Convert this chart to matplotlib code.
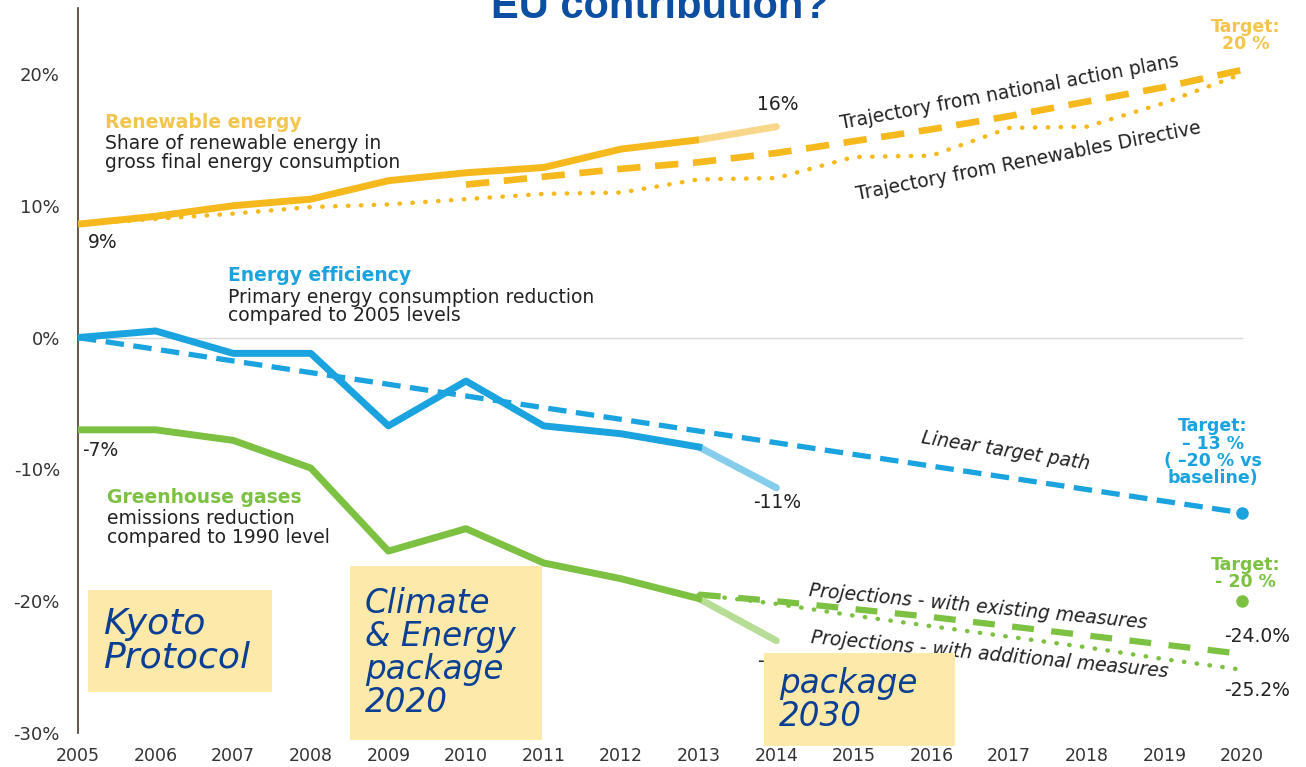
"""
EU 2020 targets chart: renewables, energy efficiency and greenhouse gas trajectories.
"""

import matplotlib
matplotlib.use("Agg")
import matplotlib.pyplot as plt
from matplotlib.patches import Rectangle


years = list(range(2005, 2015))

# renewable energy share (%), 2014 is the light segment
renew = [8.6, 9.2, 10.0, 10.5, 11.9, 12.5, 12.9, 14.3, 15.0, 16.0]
nap_years = list(range(2010, 2021))
nap_traj = [11.6, 12.2, 12.8, 13.3, 14.0, 14.9, 15.8, 16.8, 17.9, 19.0, 20.3]
red_years = list(range(2005, 2021))
red_traj = [8.6, 9.0, 9.4, 9.9, 10.1, 10.5, 10.9, 11.0, 12.0, 12.1, 13.7, 13.8, 15.9, 16.0, 17.8, 20.0]

# energy efficiency (%)
eff = [0.0, 0.5, -1.2, -1.2, -6.7, -3.3, -6.7, -7.3, -8.3, -11.4]
eff_path_years = [2005, 2020]
eff_path = [0.0, -13.3]

# greenhouse gases (%)
ghg = [-7.0, -7.0, -7.8, -9.9, -16.2, -14.5, -17.1, -18.3, -19.8, -23.0]
proj_years = list(range(2013, 2021))
proj_existing = [-19.5, -20.0, -20.6, -21.2, -21.9, -22.6, -23.3, -24.0]
proj_additional = [-19.5, -20.2, -21.1, -21.9, -22.7, -23.5, -24.4, -25.2]

yticks = [20, 10, 0, -10, -20, -30]
ytick_labels = ["20%", "10%", "0%", "-10%", "-20%", "-30%"]
xticks = list(range(2005, 2021))

YEL, YEL_L, YEL_T = "#f5b91e", "#f8d78a", "#f2c54e"
BLU, BLU_L = "#1aa3de", "#86cdec"
GRN, GRN_L = "#7dc142", "#b7dc95"
BOX = "#fde9a9"
NAVY = "#0b3f94"
TXT = "#222222"

W, H = 1306, 767
fig = plt.figure(figsize=(W / 100, H / 100), dpi=100)
ax = fig.add_axes([78 / W, 34 / H, 1222 / W, 725 / H])
ax.set_xlim(2005, 2005 + 1222 / 77.6)
ax.set_ylim(-30, 25)


def fx(px):
    """figure pixel x -> data x"""
    return 2005 + (px - 78) / 77.6


for s in ["top", "right", "bottom"]:
    ax.spines[s].set_visible(False)
ax.spines["left"].set_color("#4a3a2a")
ax.spines["left"].set_linewidth(1.2)
ax.set_yticks(yticks)
ax.set_yticklabels(ytick_labels, fontsize=13, color="#333333")
ax.set_xticks(xticks)
ax.set_xticklabels([str(y) for y in xticks], fontsize=12.5, color="#333333")
ax.tick_params(axis="y", length=0, pad=13)
ax.tick_params(axis="x", length=0, pad=10)

ax.plot([2005, 2020], [0, 0], color="#d8d8d8", lw=1, zorder=1)

# renewables
ax.plot(red_years, red_traj, color=YEL, lw=3.2, linestyle=(0, (0.1, 2.8)),
        dash_capstyle="round", zorder=2)
ax.plot(nap_years, nap_traj, color=YEL, lw=4.8, linestyle=(0, (3.5, 2.2)), zorder=2)
ax.plot(years[-2:], renew[-2:], color=YEL_L, lw=5, solid_capstyle="round", zorder=3)
ax.plot(years[:-1], renew[:-1], color=YEL, lw=5, solid_capstyle="butt", zorder=4)

# energy efficiency
ax.plot(eff_path_years, eff_path, color=BLU, lw=3.8, linestyle=(0, (3.5, 1.8)), zorder=2)
ax.plot(eff_path_years[-1], eff_path[-1], "o", color=BLU, ms=8, zorder=3)
ax.plot(years[-2:], eff[-2:], color=BLU_L, lw=5, solid_capstyle="round", zorder=3)
ax.plot(years[:-1], eff[:-1], color=BLU, lw=5, zorder=4)

# greenhouse gases
ax.plot(proj_years, proj_additional, color=GRN, lw=3.2, linestyle=(0, (0.1, 2.8)),
        dash_capstyle="round", zorder=2)
ax.plot(proj_years, proj_existing, color=GRN, lw=4.5, linestyle=(0, (3.5, 2.8)), zorder=2)
ax.plot(2020, -20, "o", color=GRN, ms=8, zorder=3)
ax.plot(years[-2:], ghg[-2:], color=GRN_L, lw=5, solid_capstyle="round", zorder=3)
ax.plot(years[:-1], ghg[:-1], color=GRN, lw=5, zorder=4)

# labels
fs = 13.5
ls = 0.95
ax.text(2005.35, 16.3, "Renewable energy", color=YEL_T, fontsize=fs, fontweight="bold", va="center")
ax.text(2005.35, 14.0, "Share of renewable energy in\ngross final energy consumption",
        color=TXT, fontsize=fs, va="center", linespacing=ls)
ax.text(2005.13, 7.2, "9%", color=TXT, fontsize=fs, va="center")
ax.text(2013.75, 17.7, "16%", color=TXT, fontsize=fs, va="center")
ax.text(2017.0, 18.6, "Trajectory from national action plans", color=TXT, fontsize=fs,
        rotation=10.5, ha="center", va="center")
ax.text(2017.25, 13.4, "Trajectory from Renewables Directive", color=TXT, fontsize=fs,
        rotation=11, ha="center", va="center")
ax.text(2020.05, 22.9, "Target:\n20 %", color=YEL_T, fontsize=12.5, fontweight="bold",
        ha="center", va="center", linespacing=0.95)

ax.text(2006.93, 4.7, "Energy efficiency", color=BLU, fontsize=fs, fontweight="bold", va="center")
ax.text(2006.93, 2.35, "Primary energy consumption reduction\ncompared to 2005 levels",
        color=TXT, fontsize=fs, va="center", linespacing=ls)
ax.text(2005.05, -8.6, "-7%", color=TXT, fontsize=fs, va="center")
ax.text(2013.7, -12.5, "-11%", color=TXT, fontsize=fs, va="center")
ax.text(2016.95, -8.6, "Linear target path", color=TXT, fontsize=fs, style="italic",
        rotation=-9, ha="center", va="center")
ax.text(2019.62, -8.7, "Target:\n\u2013 13 %\n( \u201320 % vs\nbaseline)", color=BLU,
        fontsize=12.5, fontweight="bold", ha="center", va="center", linespacing=0.95)

ax.text(2005.37, -12.1, "Greenhouse gases", color=GRN, fontsize=fs, fontweight="bold", va="center")
ax.text(2005.37, -14.45, "emissions reduction\ncompared to 1990 level",
        color=TXT, fontsize=fs, va="center", linespacing=ls)
ax.text(fx(757), -24.6, "-23%", color=TXT, fontsize=fs, va="center", zorder=1)
ax.text(2016.6, -20.4, "Projections - with existing measures", color=TXT, fontsize=fs,
        style="italic", rotation=-5.5, ha="center", va="center")
ax.text(2016.75, -24.1, "Projections - with additional measures", color=TXT, fontsize=fs,
        style="italic", rotation=-5.5, ha="center", va="center")
ax.text(2020.05, -17.9, "Target:\n- 20 %", color=GRN, fontsize=12.5, fontweight="bold",
        ha="center", va="center", linespacing=0.95)
ax.text(fx(1290), -22.7, "-24.0%", color=TXT, fontsize=fs, ha="right", va="center")
ax.text(fx(1290), -26.8, "-25.2%", color=TXT, fontsize=fs, ha="right", va="center")

# policy boxes (figure pixels)
boxes = [
    (88, 590, 272, 692, "Kyoto\nProtocol", 26),
    (350, 566, 542, 740, "Climate\n& Energy\npackage\n2020", 23.5),
    (764, 653, 955, 746, "package\n2030", 23.5),
]
for x0, y0, x1, y1, label, size in boxes:
    fig.add_artist(Rectangle((x0 / W, 1 - y1 / H), (x1 - x0) / W, (y1 - y0) / H,
                             transform=fig.transFigure, facecolor=BOX, edgecolor="none",
                             zorder=10))
    fig.text((x0 + 15) / W, 1 - (y0 + y1) / 2 / H, label, color=NAVY, fontsize=size,
             style="italic", va="center", ha="left", linespacing=1.0, zorder=11)

fig.text(660 / W, 1 - 18 / H, "EU contribution?", color="#0b4ea2", fontsize=30,
         fontweight="bold", family="Liberation Sans", ha="center", va="baseline")

fig.savefig("out.png", dpi=100)
plt.close(fig)
